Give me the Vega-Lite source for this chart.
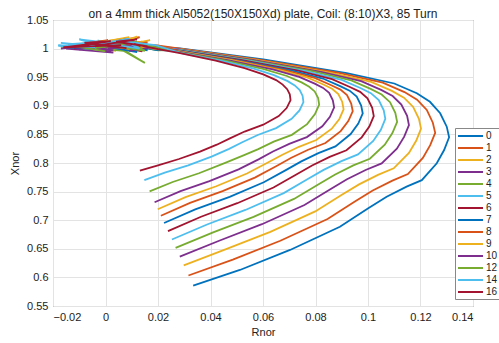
{
"$schema": "https://vega.github.io/schema/vega-lite/v6.json",
"width": 420, "height": 286,
"autosize": {"type": "none"},
"padding": {"left": 53, "top": 20, "right": 26, "bottom": 37},
"background": "white",
"title": {"text": "on a 4mm thick Al5052(150X150Xd) plate, Coil: (8:10)X3, 85 Turn", "fontSize": 12, "fontWeight": "normal", "font": "Liberation Sans", "color": "#222222", "offset": 4, "dy": 11},
"config": {
  "view": {"stroke": "#666666", "strokeWidth": 1},
  "axis": {"labelFont": "Liberation Sans", "titleFont": "Liberation Sans", "labelFontSize": 11, "titleFontSize": 11, "titleFontWeight": "normal", "labelColor": "#222222", "titleColor": "#222222", "gridColor": "#e3e3e3", "domain": false, "ticks": false, "labelPadding": 5}
},
"data": {"values": [
{"c":"0","i":0,"r":0.0334,"x":0.5855},{"c":"0","i":1,"r":0.0512,"x":0.613},{"c":"0","i":2,"r":0.0703,"x":0.648},{"c":"0","i":3,"r":0.0893,"x":0.6886},{"c":"0","i":4,"r":0.1001,"x":0.7208},{"c":"0","i":5,"r":0.1071,"x":0.741},{"c":"0","i":6,"r":0.1147,"x":0.7586},{"c":"0","i":7,"r":0.1205,"x":0.77},{"c":"0","i":8,"r":0.1262,"x":0.7995},{"c":"0","i":9,"r":0.129,"x":0.8227},{"c":"0","i":10,"r":0.1309,"x":0.845},{"c":"0","i":11,"r":0.13,"x":0.8635},{"c":"0","i":12,"r":0.1275,"x":0.887},{"c":"0","i":13,"r":0.1236,"x":0.907},{"c":"0","i":14,"r":0.1186,"x":0.922},{"c":"0","i":15,"r":0.11,"x":0.939},{"c":"0","i":16,"r":0.0919,"x":0.957},{"c":"0","i":17,"r":0.0601,"x":0.981},{"c":"0","i":18,"r":0.0284,"x":1.0005},
{"c":"0","i":19,"r":0.020,"x":1.003},{"c":"0","i":20,"r":0.012,"x":1.010},{"c":"0","i":21,"r":0.016,"x":0.997},{"c":"0","i":22,"r":0.004,"x":1.008},{"c":"0","i":23,"r":0.010,"x":1.013},{"c":"0","i":24,"r":-0.004,"x":1.004},{"c":"0","i":25,"r":0.006,"x":0.999},{"c":"0","i":26,"r":-0.012,"x":1.007},{"c":"0","i":27,"r":-0.002,"x":1.011},{"c":"0","i":28,"r":-0.016,"x":1.001},{"c":"0","i":29,"r":0.002,"x":1.004},
{"c":"1","i":0,"r":0.0316,"x":0.6033},{"c":"1","i":1,"r":0.0485,"x":0.6312},{"c":"1","i":2,"r":0.0666,"x":0.664},{"c":"1","i":3,"r":0.0846,"x":0.7022},{"c":"1","i":4,"r":0.095,"x":0.7326},{"c":"1","i":5,"r":0.1018,"x":0.752},{"c":"1","i":6,"r":0.1093,"x":0.7691},{"c":"1","i":7,"r":0.1152,"x":0.7806},{"c":"1","i":8,"r":0.1209,"x":0.8088},{"c":"1","i":9,"r":0.1237,"x":0.8312},{"c":"1","i":10,"r":0.1256,"x":0.8527},{"c":"1","i":11,"r":0.1247,"x":0.8705},{"c":"1","i":12,"r":0.1224,"x":0.8927},{"c":"1","i":13,"r":0.1187,"x":0.9107},{"c":"1","i":14,"r":0.1139,"x":0.924},{"c":"1","i":15,"r":0.1056,"x":0.9404},{"c":"1","i":16,"r":0.0885,"x":0.9578},{"c":"1","i":17,"r":0.0585,"x":0.9808},{"c":"1","i":18,"r":0.0284,"x":0.9998},
{"c":"1","i":19,"r":0.019,"x":1.006},{"c":"1","i":20,"r":0.008,"x":1.000},{"c":"1","i":21,"r":0.014,"x":1.012},{"c":"1","i":22,"r":0.002,"x":1.005},{"c":"1","i":23,"r":0.012,"x":1.018},{"c":"1","i":24,"r":-0.006,"x":1.009},{"c":"1","i":25,"r":0.006,"x":1.002},{"c":"1","i":26,"r":-0.014,"x":1.004},{"c":"1","i":27,"r":0.000,"x":1.010},{"c":"1","i":28,"r":-0.010,"x":0.998},
{"c":"2","i":0,"r":0.0298,"x":0.621},{"c":"2","i":1,"r":0.0457,"x":0.6489},{"c":"2","i":2,"r":0.0628,"x":0.6797},{"c":"2","i":3,"r":0.0799,"x":0.7154},{"c":"2","i":4,"r":0.0899,"x":0.7441},{"c":"2","i":5,"r":0.0966,"x":0.7626},{"c":"2","i":6,"r":0.1038,"x":0.7792},{"c":"2","i":7,"r":0.1098,"x":0.7907},{"c":"2","i":8,"r":0.1156,"x":0.8177},{"c":"2","i":9,"r":0.1184,"x":0.8393},{"c":"2","i":10,"r":0.1202,"x":0.8601},{"c":"2","i":11,"r":0.1194,"x":0.8771},{"c":"2","i":12,"r":0.1172,"x":0.898},{"c":"2","i":13,"r":0.1137,"x":0.9141},{"c":"2","i":14,"r":0.1091,"x":0.9261},{"c":"2","i":15,"r":0.1012,"x":0.9418},{"c":"2","i":16,"r":0.085,"x":0.9586},{"c":"2","i":17,"r":0.0569,"x":0.9806},{"c":"2","i":18,"r":0.0284,"x":0.999},
{"c":"2","i":19,"r":0.021,"x":0.999},{"c":"2","i":20,"r":0.010,"x":1.008},{"c":"2","i":21,"r":0.017,"x":1.015},{"c":"2","i":22,"r":0.003,"x":1.002},{"c":"2","i":23,"r":0.009,"x":1.020},{"c":"2","i":24,"r":-0.003,"x":1.010},{"c":"2","i":25,"r":0.004,"x":0.996},{"c":"2","i":26,"r":-0.011,"x":1.006},{"c":"2","i":27,"r":0.001,"x":1.013},{"c":"2","i":28,"r":-0.015,"x":1.003},
{"c":"3","i":0,"r":0.0283,"x":0.6364},{"c":"3","i":1,"r":0.0433,"x":0.6641},{"c":"3","i":2,"r":0.0596,"x":0.693},{"c":"3","i":3,"r":0.0758,"x":0.7266},{"c":"3","i":4,"r":0.0855,"x":0.7537},{"c":"3","i":5,"r":0.092,"x":0.7715},{"c":"3","i":6,"r":0.0991,"x":0.7877},{"c":"3","i":7,"r":0.1052,"x":0.7993},{"c":"3","i":8,"r":0.111,"x":0.8251},{"c":"3","i":9,"r":0.1138,"x":0.846},{"c":"3","i":10,"r":0.1156,"x":0.8662},{"c":"3","i":11,"r":0.1149,"x":0.8825},{"c":"3","i":12,"r":0.1127,"x":0.9023},{"c":"3","i":13,"r":0.1094,"x":0.917},{"c":"3","i":14,"r":0.105,"x":0.9278},{"c":"3","i":15,"r":0.0974,"x":0.943},{"c":"3","i":16,"r":0.0821,"x":0.9593},{"c":"3","i":17,"r":0.0555,"x":0.9805},{"c":"3","i":18,"r":0.0284,"x":0.9984},
{"c":"3","i":19,"r":0.018,"x":1.002},{"c":"3","i":20,"r":0.007,"x":0.996},{"c":"3","i":21,"r":0.013,"x":1.009},{"c":"3","i":22,"r":-0.002,"x":1.001},{"c":"3","i":23,"r":0.008,"x":1.012},{"c":"3","i":24,"r":-0.009,"x":1.006},{"c":"3","i":25,"r":0.003,"x":0.993},{"c":"3","i":26,"r":-0.015,"x":1.000},{"c":"3","i":27,"r":-0.004,"x":1.008},
{"c":"4","i":0,"r":0.0267,"x":0.6515},{"c":"4","i":1,"r":0.041,"x":0.6786},{"c":"4","i":2,"r":0.0564,"x":0.7057},{"c":"4","i":3,"r":0.0718,"x":0.7372},{"c":"4","i":4,"r":0.0812,"x":0.7628},{"c":"4","i":5,"r":0.0875,"x":0.78},{"c":"4","i":6,"r":0.0944,"x":0.7958},{"c":"4","i":7,"r":0.1007,"x":0.8074},{"c":"4","i":8,"r":0.1064,"x":0.8321},{"c":"4","i":9,"r":0.1093,"x":0.8523},{"c":"4","i":10,"r":0.1111,"x":0.8718},{"c":"4","i":11,"r":0.1104,"x":0.8876},{"c":"4","i":12,"r":0.1084,"x":0.9063},{"c":"4","i":13,"r":0.1052,"x":0.9197},{"c":"4","i":14,"r":0.101,"x":0.9296},{"c":"4","i":15,"r":0.0936,"x":0.9443},{"c":"4","i":16,"r":0.0791,"x":0.96},{"c":"4","i":17,"r":0.0542,"x":0.9803},{"c":"4","i":18,"r":0.0284,"x":0.9977},
{"c":"4","i":19,"r":0.020,"x":0.997},{"c":"4","i":20,"r":0.011,"x":1.005},{"c":"4","i":21,"r":0.005,"x":1.002},{"c":"4","i":22,"r":0.009,"x":0.992},{"c":"4","i":23,"r":0.015,"x":0.975},{"c":"4","i":24,"r":0.007,"x":0.996},{"c":"4","i":25,"r":-0.005,"x":1.001},{"c":"4","i":26,"r":0.007,"x":1.012},{"c":"4","i":27,"r":-0.012,"x":1.005},{"c":"4","i":28,"r":-0.002,"x":0.999},{"c":"4","i":29,"r":-0.017,"x":1.003},
{"c":"5","i":0,"r":0.0253,"x":0.6663},{"c":"5","i":1,"r":0.0387,"x":0.6925},{"c":"5","i":2,"r":0.0533,"x":0.7179},{"c":"5","i":3,"r":0.0679,"x":0.7474},{"c":"5","i":4,"r":0.0769,"x":0.7715},{"c":"5","i":5,"r":0.0831,"x":0.788},{"c":"5","i":6,"r":0.0899,"x":0.8033},{"c":"5","i":7,"r":0.0962,"x":0.815},{"c":"5","i":8,"r":0.102,"x":0.8386},{"c":"5","i":9,"r":0.1049,"x":0.8581},{"c":"5","i":10,"r":0.1066,"x":0.8771},{"c":"5","i":11,"r":0.106,"x":0.8922},{"c":"5","i":12,"r":0.1041,"x":0.9099},{"c":"5","i":13,"r":0.1011,"x":0.9221},{"c":"5","i":14,"r":0.0971,"x":0.9312},{"c":"5","i":15,"r":0.09,"x":0.9454},{"c":"5","i":16,"r":0.0763,"x":0.9606},{"c":"5","i":17,"r":0.0528,"x":0.9802},{"c":"5","i":18,"r":0.0284,"x":0.9971},
{"c":"5","i":19,"r":0.019,"x":1.004},{"c":"5","i":20,"r":0.006,"x":1.011},{"c":"5","i":21,"r":0.013,"x":1.001},{"c":"5","i":22,"r":-0.003,"x":1.014},{"c":"5","i":23,"r":0.007,"x":1.007},{"c":"5","i":24,"r":-0.010,"x":1.016},{"c":"5","i":25,"r":0.000,"x":1.003},{"c":"5","i":26,"r":-0.017,"x":1.010},{"c":"5","i":27,"r":-0.006,"x":1.002},{"c":"5","i":28,"r":-0.018,"x":1.005},
{"c":"6","i":0,"r":0.0238,"x":0.681},{"c":"6","i":1,"r":0.0364,"x":0.7061},{"c":"6","i":2,"r":0.0502,"x":0.7297},{"c":"6","i":3,"r":0.064,"x":0.7572},{"c":"6","i":4,"r":0.0727,"x":0.7798},{"c":"6","i":5,"r":0.0787,"x":0.7957},{"c":"6","i":6,"r":0.0854,"x":0.8106},{"c":"6","i":7,"r":0.0918,"x":0.8223},{"c":"6","i":8,"r":0.0976,"x":0.8449},{"c":"6","i":9,"r":0.1005,"x":0.8637},{"c":"6","i":10,"r":0.1022,"x":0.8821},{"c":"6","i":11,"r":0.1016,"x":0.8965},{"c":"6","i":12,"r":0.0998,"x":0.9132},{"c":"6","i":13,"r":0.097,"x":0.9244},{"c":"6","i":14,"r":0.0931,"x":0.9329},{"c":"6","i":15,"r":0.0863,"x":0.9466},{"c":"6","i":16,"r":0.0734,"x":0.9613},{"c":"6","i":17,"r":0.0515,"x":0.9801},{"c":"6","i":18,"r":0.0284,"x":0.9965},
{"c":"6","i":19,"r":0.020,"x":1.001},{"c":"6","i":20,"r":0.009,"x":1.009},{"c":"6","i":21,"r":0.014,"x":0.995},{"c":"6","i":22,"r":0.002,"x":1.006},{"c":"6","i":23,"r":0.011,"x":1.013},{"c":"6","i":24,"r":-0.005,"x":1.003},{"c":"6","i":25,"r":0.005,"x":1.010},{"c":"6","i":26,"r":-0.012,"x":1.000},{"c":"6","i":27,"r":-0.001,"x":1.007},{"c":"6","i":28,"r":-0.016,"x":1.004},
{"c":"7","i":0,"r":0.0223,"x":0.6951},{"c":"7","i":1,"r":0.0342,"x":0.7189},{"c":"7","i":2,"r":0.0473,"x":0.7409},{"c":"7","i":3,"r":0.0603,"x":0.7664},{"c":"7","i":4,"r":0.0687,"x":0.7876},{"c":"7","i":5,"r":0.0746,"x":0.8028},{"c":"7","i":6,"r":0.0811,"x":0.8173},{"c":"7","i":7,"r":0.0876,"x":0.8291},{"c":"7","i":8,"r":0.0934,"x":0.8507},{"c":"7","i":9,"r":0.0963,"x":0.8689},{"c":"7","i":10,"r":0.098,"x":0.8866},{"c":"7","i":11,"r":0.0974,"x":0.9005},{"c":"7","i":12,"r":0.0957,"x":0.9161},{"c":"7","i":13,"r":0.093,"x":0.9265},{"c":"7","i":14,"r":0.0894,"x":0.9345},{"c":"7","i":15,"r":0.0828,"x":0.9477},{"c":"7","i":16,"r":0.0707,"x":0.9619},{"c":"7","i":17,"r":0.0502,"x":0.9799},{"c":"7","i":18,"r":0.0284,"x":0.9959},
{"c":"7","i":19,"r":0.019,"x":0.998},{"c":"7","i":20,"r":0.008,"x":1.007},{"c":"7","i":21,"r":0.012,"x":0.994},{"c":"7","i":22,"r":0.000,"x":1.004},{"c":"7","i":23,"r":0.010,"x":1.011},{"c":"7","i":24,"r":-0.007,"x":1.002},{"c":"7","i":25,"r":0.004,"x":1.008},{"c":"7","i":26,"r":-0.013,"x":1.006},{"c":"7","i":27,"r":-0.003,"x":0.999},{"c":"7","i":28,"r":-0.015,"x":1.002},
{"c":"8","i":0,"r":0.0211,"x":0.7078},{"c":"8","i":1,"r":0.0322,"x":0.7303},{"c":"8","i":2,"r":0.0446,"x":0.7507},{"c":"8","i":3,"r":0.0569,"x":0.7745},{"c":"8","i":4,"r":0.065,"x":0.7944},{"c":"8","i":5,"r":0.0708,"x":0.8091},{"c":"8","i":6,"r":0.0772,"x":0.8232},{"c":"8","i":7,"r":0.0838,"x":0.835},{"c":"8","i":8,"r":0.0896,"x":0.8557},{"c":"8","i":9,"r":0.0925,"x":0.8733},{"c":"8","i":10,"r":0.0942,"x":0.8905},{"c":"8","i":11,"r":0.0936,"x":0.9039},{"c":"8","i":12,"r":0.092,"x":0.9186},{"c":"8","i":13,"r":0.0895,"x":0.9283},{"c":"8","i":14,"r":0.086,"x":0.936},{"c":"8","i":15,"r":0.0797,"x":0.9487},{"c":"8","i":16,"r":0.0682,"x":0.9625},{"c":"8","i":17,"r":0.0491,"x":0.9798},{"c":"8","i":18,"r":0.0284,"x":0.9953},
{"c":"8","i":19,"r":0.020,"x":1.005},{"c":"8","i":20,"r":0.010,"x":0.999},{"c":"8","i":21,"r":0.016,"x":1.011},{"c":"8","i":22,"r":0.004,"x":1.003},{"c":"8","i":23,"r":0.013,"x":1.020},{"c":"8","i":24,"r":-0.002,"x":1.009},{"c":"8","i":25,"r":0.007,"x":1.001},{"c":"8","i":26,"r":-0.010,"x":1.008},{"c":"8","i":27,"r":0.001,"x":1.015},{"c":"8","i":28,"r":-0.013,"x":1.003},
{"c":"9","i":0,"r":0.0199,"x":0.7192},{"c":"9","i":1,"r":0.0305,"x":0.7403},{"c":"9","i":2,"r":0.0422,"x":0.7593},{"c":"9","i":3,"r":0.0539,"x":0.7816},{"c":"9","i":4,"r":0.0617,"x":0.8004},{"c":"9","i":5,"r":0.0674,"x":0.8144},{"c":"9","i":6,"r":0.0737,"x":0.8283},{"c":"9","i":7,"r":0.0803,"x":0.8401},{"c":"9","i":8,"r":0.0862,"x":0.86},{"c":"9","i":9,"r":0.0891,"x":0.877},{"c":"9","i":10,"r":0.0907,"x":0.8938},{"c":"9","i":11,"r":0.0902,"x":0.9067},{"c":"9","i":12,"r":0.0887,"x":0.9205},{"c":"9","i":13,"r":0.0863,"x":0.9298},{"c":"9","i":14,"r":0.083,"x":0.9373},{"c":"9","i":15,"r":0.0768,"x":0.9496},{"c":"9","i":16,"r":0.066,"x":0.963},{"c":"9","i":17,"r":0.0481,"x":0.9797},{"c":"9","i":18,"r":0.0284,"x":0.9949},
{"c":"9","i":19,"r":0.018,"x":1.000},{"c":"9","i":20,"r":0.007,"x":1.009},{"c":"9","i":21,"r":0.012,"x":1.021},{"c":"9","i":22,"r":0.002,"x":1.006},{"c":"9","i":23,"r":0.011,"x":0.998},{"c":"9","i":24,"r":-0.004,"x":1.010},{"c":"9","i":25,"r":0.005,"x":1.016},{"c":"9","i":26,"r":-0.011,"x":1.003},{"c":"9","i":27,"r":-0.001,"x":1.008},{"c":"9","i":28,"r":-0.014,"x":1.006},
{"c":"10","i":0,"r":0.0187,"x":0.7313},{"c":"10","i":1,"r":0.0286,"x":0.7507},{"c":"10","i":2,"r":0.0396,"x":0.7683},{"c":"10","i":3,"r":0.0507,"x":0.7889},{"c":"10","i":4,"r":0.0583,"x":0.8064},{"c":"10","i":5,"r":0.0638,"x":0.82},{"c":"10","i":6,"r":0.07,"x":0.8335},{"c":"10","i":7,"r":0.0767,"x":0.8453},{"c":"10","i":8,"r":0.0826,"x":0.8643},{"c":"10","i":9,"r":0.0855,"x":0.8808},{"c":"10","i":10,"r":0.0871,"x":0.8971},{"c":"10","i":11,"r":0.0866,"x":0.9095},{"c":"10","i":12,"r":0.0852,"x":0.9225},{"c":"10","i":13,"r":0.0829,"x":0.9313},{"c":"10","i":14,"r":0.0797,"x":0.9387},{"c":"10","i":15,"r":0.0738,"x":0.9506},{"c":"10","i":16,"r":0.0637,"x":0.9635},{"c":"10","i":17,"r":0.047,"x":0.9796},{"c":"10","i":18,"r":0.0284,"x":0.9943},
{"c":"10","i":19,"r":0.019,"x":1.003},{"c":"10","i":20,"r":0.009,"x":0.996},{"c":"10","i":21,"r":0.014,"x":1.007},{"c":"10","i":22,"r":0.001,"x":1.000},{"c":"10","i":23,"r":0.010,"x":1.010},{"c":"10","i":24,"r":-0.006,"x":1.004},{"c":"10","i":25,"r":0.003,"x":0.997},{"c":"10","i":26,"r":-0.012,"x":1.002},{"c":"10","i":27,"r":-0.002,"x":1.008},{"c":"10","i":28,"r":-0.017,"x":1.000},
{"c":"12","i":0,"r":0.0168,"x":0.7504},{"c":"12","i":1,"r":0.0256,"x":0.7668},{"c":"12","i":2,"r":0.0356,"x":0.7821},{"c":"12","i":3,"r":0.0456,"x":0.8001},{"c":"12","i":4,"r":0.0528,"x":0.8137},{"c":"12","i":5,"r":0.0582,"x":0.8243},{"c":"12","i":6,"r":0.0641,"x":0.8374},{"c":"12","i":7,"r":0.071,"x":0.8492},{"c":"12","i":8,"r":0.0768,"x":0.8679},{"c":"12","i":9,"r":0.0798,"x":0.8855},{"c":"12","i":10,"r":0.0814,"x":0.902},{"c":"12","i":11,"r":0.081,"x":0.9135},{"c":"12","i":12,"r":0.0797,"x":0.9251},{"c":"12","i":13,"r":0.0776,"x":0.9334},{"c":"12","i":14,"r":0.0747,"x":0.9409},{"c":"12","i":15,"r":0.0691,"x":0.9521},{"c":"12","i":16,"r":0.06,"x":0.9644},{"c":"12","i":17,"r":0.0453,"x":0.9794},{"c":"12","i":18,"r":0.0284,"x":0.9935},
{"c":"12","i":19,"r":0.020,"x":1.002},{"c":"12","i":20,"r":0.010,"x":1.009},{"c":"12","i":21,"r":0.015,"x":0.996},{"c":"12","i":22,"r":0.003,"x":1.005},{"c":"12","i":23,"r":0.012,"x":1.012},{"c":"12","i":24,"r":-0.004,"x":1.001},{"c":"12","i":25,"r":0.006,"x":1.008},{"c":"12","i":26,"r":-0.011,"x":1.004},{"c":"12","i":27,"r":0.000,"x":0.995},{"c":"12","i":28,"r":-0.014,"x":1.006},
{"c":"14","i":0,"r":0.0148,"x":0.7702},{"c":"14","i":1,"r":0.0226,"x":0.783},{"c":"14","i":2,"r":0.0315,"x":0.7959},{"c":"14","i":3,"r":0.0404,"x":0.8112},{"c":"14","i":4,"r":0.0471,"x":0.8248},{"c":"14","i":5,"r":0.0523,"x":0.8366},{"c":"14","i":6,"r":0.058,"x":0.849},{"c":"14","i":7,"r":0.065,"x":0.861},{"c":"14","i":8,"r":0.0709,"x":0.8772},{"c":"14","i":9,"r":0.0739,"x":0.8919},{"c":"14","i":10,"r":0.0754,"x":0.9066},{"c":"14","i":11,"r":0.0751,"x":0.9173},{"c":"14","i":12,"r":0.074,"x":0.9275},{"c":"14","i":13,"r":0.0721,"x":0.9356},{"c":"14","i":14,"r":0.0694,"x":0.9431},{"c":"14","i":15,"r":0.0642,"x":0.9537},{"c":"14","i":16,"r":0.0562,"x":0.9653},{"c":"14","i":17,"r":0.0435,"x":0.9792},{"c":"14","i":18,"r":0.0284,"x":0.9927},
{"c":"14","i":19,"r":0.019,"x":1.006},{"c":"14","i":20,"r":0.008,"x":1.012},{"c":"14","i":21,"r":0.013,"x":1.000},{"c":"14","i":22,"r":0.000,"x":1.009},{"c":"14","i":23,"r":0.009,"x":1.017},{"c":"14","i":24,"r":-0.007,"x":1.005},{"c":"14","i":25,"r":0.004,"x":1.013},{"c":"14","i":26,"r":-0.014,"x":1.008},{"c":"14","i":27,"r":-0.004,"x":1.002},{"c":"14","i":28,"r":-0.018,"x":1.006},
{"c":"16","i":0,"r":0.0131,"x":0.7866},{"c":"16","i":1,"r":0.02,"x":0.796},{"c":"16","i":2,"r":0.028,"x":0.807},{"c":"16","i":3,"r":0.036,"x":0.82},{"c":"16","i":4,"r":0.0424,"x":0.832},{"c":"16","i":5,"r":0.0474,"x":0.843},{"c":"16","i":6,"r":0.053,"x":0.855},{"c":"16","i":7,"r":0.0601,"x":0.867},{"c":"16","i":8,"r":0.066,"x":0.882},{"c":"16","i":9,"r":0.069,"x":0.896},{"c":"16","i":10,"r":0.0705,"x":0.91},{"c":"16","i":11,"r":0.0702,"x":0.92},{"c":"16","i":12,"r":0.0692,"x":0.929},{"c":"16","i":13,"r":0.0675,"x":0.937},{"c":"16","i":14,"r":0.065,"x":0.945},{"c":"16","i":15,"r":0.0601,"x":0.955},{"c":"16","i":16,"r":0.053,"x":0.966},{"c":"16","i":17,"r":0.042,"x":0.979},{"c":"16","i":18,"r":0.0284,"x":0.992},
{"c":"16","i":19,"r":0.020,"x":0.999},{"c":"16","i":20,"r":0.011,"x":1.008},{"c":"16","i":21,"r":0.016,"x":1.004},{"c":"16","i":22,"r":0.004,"x":1.012},{"c":"16","i":23,"r":0.012,"x":1.016},{"c":"16","i":24,"r":-0.002,"x":1.006},{"c":"16","i":25,"r":0.008,"x":1.001},{"c":"16","i":26,"r":-0.008,"x":1.010},{"c":"16","i":27,"r":0.002,"x":1.013},{"c":"16","i":28,"r":-0.012,"x":1.003},{"c":"16","i":29,"r":-0.004,"x":1.009},{"c":"16","i":30,"r":-0.016,"x":1.002},{"c":"16","i":31,"r":0.006,"x":1.006}
]},
"mark": {"type": "line", "strokeWidth": 1.8, "clip": true},
"encoding": {
  "x": {"field": "r", "type": "quantitative", "scale": {"domain": [-0.02, 0.14], "nice": false, "zero": false},
        "axis": {"title": "Rnor", "values": [-0.02, 0, 0.02, 0.04, 0.06, 0.08, 0.1, 0.12, 0.14], "format": "~g", "titlePadding": 4}},
  "y": {"field": "x", "type": "quantitative", "scale": {"domain": [0.55, 1.05], "nice": false, "zero": false},
        "axis": {"title": "Xnor", "values": [0.55, 0.6, 0.65, 0.7, 0.75, 0.8, 0.85, 0.9, 0.95, 1, 1.05], "format": "~g", "titlePadding": 6}},
  "color": {"field": "c", "type": "nominal",
     "scale": {"domain": ["0","1","2","3","4","5","6","7","8","9","10","12","14","16"],
               "range": ["#0072BD","#D95319","#EDB120","#7E2F8E","#77AC30","#4DBEEE","#A2142F","#0072BD","#D95319","#EDB120","#7E2F8E","#77AC30","#4DBEEE","#A2142F"]},
     "legend": {"title": null, "orient": "none", "legendX": 402, "legendY": 108, "symbolType": "M-1,0H4", "symbolSize": 100, "symbolStrokeWidth": 2, "labelFont": "Liberation Sans", "labelFontSize": 10, "labelColor": "#222222", "labelOffset": 17, "padding": 2, "rowPadding": 1, "strokeColor": "#888888", "fillColor": "white"}},
  "order": {"field": "i", "type": "quantitative"}
}
}
